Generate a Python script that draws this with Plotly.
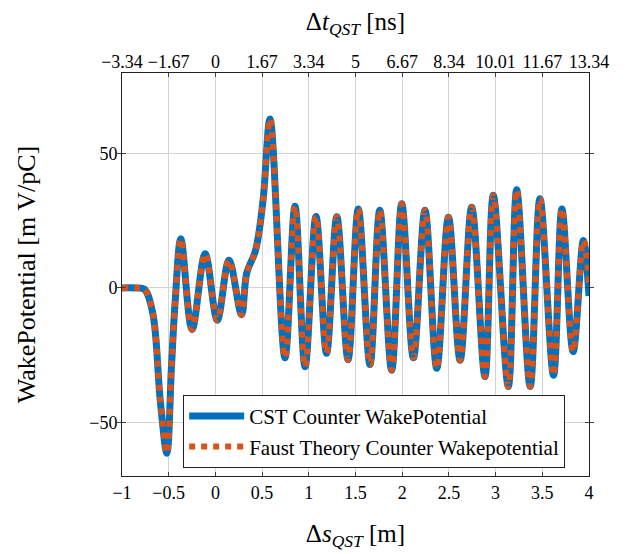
import plotly.graph_objects as go

# Delta s_QST [m]
s_cst = [-1.0, -0.85, -0.76, -0.67, -0.59, -0.52, -0.47, -0.43, -0.37, -0.25, -0.11, 0.02, 0.145, 0.28,
         0.335, 0.43, 0.51, 0.585, 0.745, 0.852, 0.96, 1.077, 1.19, 1.30, 1.42, 1.53, 1.655,
         1.76, 1.887, 1.995, 2.12, 2.244, 2.37, 2.495, 2.62, 2.744, 2.886, 2.975, 3.136,
         3.226, 3.37, 3.475, 3.62, 3.71, 3.83, 3.94, 4.0]
wake_cst = [0.0, 0.0, -0.5, -9.5, -42.0, -61.5, -29.0, -4.6, 18.3, -15.5, 12.7, -12.0, 10.3, -10.0,
            5.5, 14.0, 32.6, 62.9, -26.0, 30.4, -29.3, 26.6, -24.3, 26.5, -26.7, 29.4, -28.5,
            28.9, -30.6, 31.3, -26.0, 28.9, -29.9, 26.3, -26.9, 30.0, -33.0, 34.5, -36.7,
            36.5, -36.7, 33.2, -32.5, 29.4, -23.7, 17.7, -3.0]

s_faust = list(s_cst)
wake_faust = [0.0, 0.0, -0.5, -9.5, -42.0, -61.5, -29.0, -4.6, 18.3, -15.5, 12.7, -12.0, 10.3, -10.0,
              5.5, 14.0, 32.6, 62.9, -26.0, 30.4, -29.3, 26.6, -24.3, 26.5, -26.7, 29.4, -28.5,
              28.9, -30.6, 31.3, -26.0, 28.9, -29.9, 26.3, -26.9, 30.0, -33.0, 34.5, -36.7,
              36.5, -36.7, 33.2, -32.5, 29.4, -23.7, 17.7, 2.0]

x_ticks = [-1, -0.5, 0, 0.5, 1, 1.5, 2, 2.5, 3, 3.5, 4]
x_tick_labels = ["−1", "−0.5", "0", "0.5", "1", "1.5", "2", "2.5", "3", "3.5", "4"]
t_tick_labels = ["−3.34", "−1.67", "0", "1.67", "3.34", "5", "6.67", "8.34", "10.01", "11.67", "13.34"]
y_ticks = [-50, 0, 50]
y_tick_labels = ["−50", "0", "50"]

BLUE = "#0072BD"
ORANGE = "#D95319"
FONT = "Liberation Serif, Times New Roman, serif"
TICK = 18
TITLE = 25

fig = go.Figure()
fig.add_trace(go.Scatter(x=s_cst, y=wake_cst, mode="lines", name="CST Counter WakePotential",
                         line=dict(color=BLUE, width=7, shape="spline", smoothing=1.0)))
fig.add_trace(go.Scatter(x=s_faust, y=wake_faust, mode="lines", name="Faust Theory Counter Wakepotential",
                         line=dict(color=ORANGE, width=6, dash="dot", shape="spline", smoothing=1.0)))
# carrier for the top time axis
fig.add_trace(go.Scatter(x=[x_ticks[0], x_ticks[-1]], y=[None, None], xaxis="x2", mode="lines",
                         showlegend=False, hoverinfo="skip"))

axis_common = dict(showline=True, linecolor="#222", linewidth=1, ticks="inside", ticklen=4,
                   tickcolor="#444", showgrid=True, gridcolor="#d4d4d4", gridwidth=1,
                   zeroline=False, automargin=False,
                   tickfont=dict(family=FONT, size=TICK, color="black"))

fig.update_layout(
    width=628, height=554,
    margin=dict(l=114, r=47, t=65, b=86),
    paper_bgcolor="white", plot_bgcolor="white",
    font=dict(family=FONT, color="black", size=TICK),
    xaxis=dict(range=[-1, 4], tickvals=x_ticks, ticktext=x_tick_labels, mirror="allticks",
               title=dict(text="Δ<i>s</i><sub><i>QST</i></sub> [m]", font=dict(family=FONT, size=TITLE), standoff=22),
               **axis_common),
    xaxis2=dict(range=[-1, 4], overlaying="x", side="top", anchor="y", tickvals=x_ticks,
                ticktext=t_tick_labels, showline=False, ticks="", showgrid=False, zeroline=False,
                automargin=False, tickfont=dict(family=FONT, size=TICK, color="black"),
                title=dict(text="Δ<i>t</i><sub><i>QST</i></sub> [ns]", font=dict(family=FONT, size=TITLE), standoff=20)),
    yaxis=dict(range=[-70, 80], tickvals=y_ticks, ticktext=y_tick_labels, mirror="allticks",
               title=dict(text="WakePotential [m V/pC]", font=dict(family=FONT, size=26), standoff=46),
               **axis_common),
    legend=dict(x=0.131, y=0.02, xanchor="left", yanchor="bottom", bgcolor="white",
                bordercolor="#222", borderwidth=1, font=dict(family=FONT, size=21, color="black"),
                tracegroupgap=0, itemwidth=55, entrywidth=330, entrywidthmode="pixels"),
    showlegend=True,
)

fig.write_html("out.html")
